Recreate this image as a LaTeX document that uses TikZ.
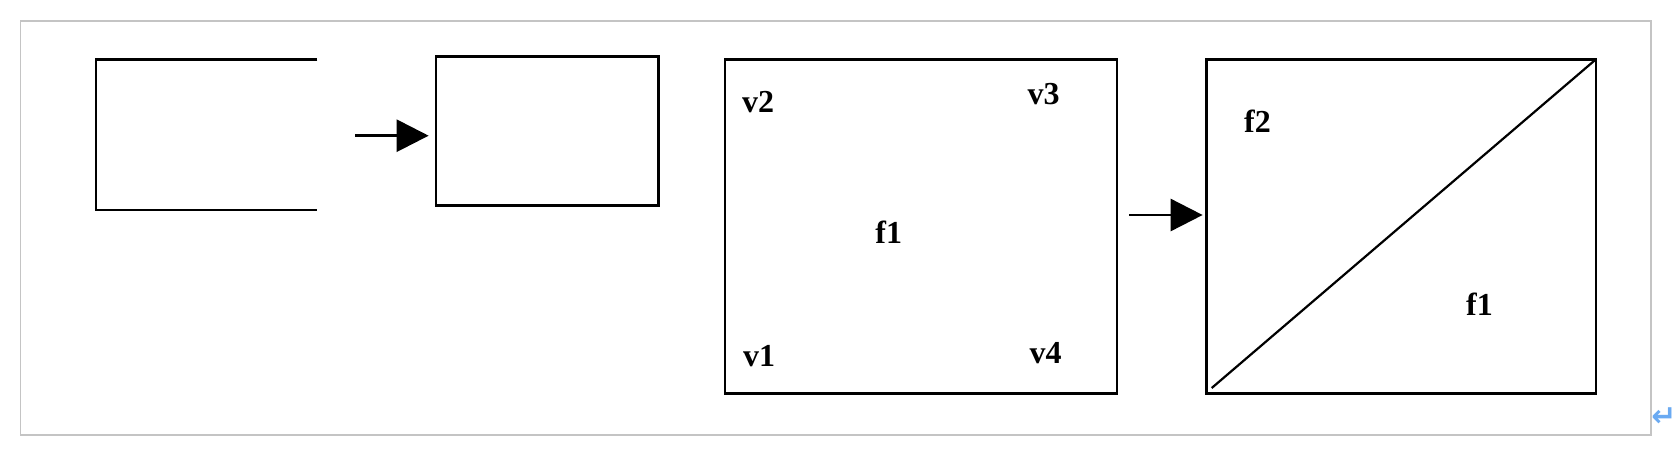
\documentclass[tikz,border=0pt]{standalone}
\usepackage{fontspec}
\setmainfont{Liberation Serif}
\newfontfamily\symfont{DejaVu Sans}
\usetikzlibrary{arrows.meta}
\definecolor{framegray}{HTML}{C4C4C4}
\definecolor{retblue}{HTML}{6AAAF2}
\tikzset{
  edge/.style={line width=2.7pt, black},
  box/.style={draw, line width=2.7pt, rectangle, inner sep=0pt, outer sep=0pt},
  lbl/.style={inner sep=0pt, font=\fontsize{32}{32}\selectfont\bfseries},
  arr/.style={line width=2.7pt, -{Triangle[length=32pt,width=32pt]}},
}
\begin{document}
\begin{tikzpicture}[x=1pt,y=-1pt]
\useasboundingbox (0,0) rectangle (1676,456);
\fill[white] (0,0) rectangle (1676,456);
% frame
\draw[framegray, line width=1.6pt] (20.5,20.7) rectangle (1651,434.7);
% open rectangle
\coordinate (o1) at (317.4,59.3);
\coordinate (o2) at (96,59.3);
\coordinate (o3) at (96,210);
\coordinate (o4) at (317.4,210);
\draw[edge] (o1) -- (o2) -- (o3) -- (o4);
% boxes
\node[box, minimum width=222.5pt, minimum height=148.6pt] (r2) at (547.3,131) {};
\node[box, minimum width=392pt, minimum height=334pt] (r3) at (921,226.3) {};
\node[box, minimum width=389.3pt, minimum height=334pt] (r4) at (1401.3,226.3) {};
% arrows
\coordinate (a1) at (355,135.7);
\draw[arr, shorten >=7.4pt] (a1) -- (a1 -| r2.west);
\coordinate (a2) at (1129,215);
\draw[arr, shorten >=4pt] (a2) -- (a2 -| r4.west);
% diagonal
\coordinate (d1) at (1211.7,388);
\draw[line width=2.2pt] (d1) -- (r4.north east);
% labels
\node[lbl] (v2) at (758,102) {v2};
\node[lbl] (v3) at (1043.7,94) {v3};
\node[lbl] (f1a) at (888.7,232) {f1};
\node[lbl] (v1) at (759,356) {v1};
\node[lbl] (v4) at (1045.6,353) {v4};
\node[lbl] (f2) at (1257.5,121) {f2};
\node[lbl] (f1b) at (1479.5,304) {f1};
% return mark
\node[inner sep=0pt, text=retblue, font=\symfont\bfseries\fontsize{30}{30}\selectfont] (ret) at (1664,417) {↵};
\end{tikzpicture}
\end{document}
